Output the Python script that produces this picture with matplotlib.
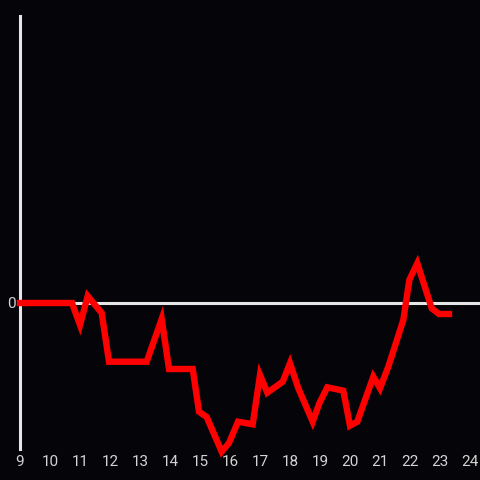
import matplotlib
matplotlib.use("Agg")
import matplotlib.pyplot as plt

hours = [9.0, 10.733, 11.0, 11.257, 11.723, 11.967, 13.223, 13.723, 13.967, 14.757,
         14.967, 15.223, 15.723, 15.967, 16.267, 16.757, 17.0, 17.243, 17.757, 18.0,
         18.277, 18.757, 18.977, 19.243, 19.777, 20.0, 20.243, 20.777, 21.0, 21.277,
         21.777, 21.977, 22.243, 22.723, 22.967, 23.3]
values = [0, 0, -2.2, 0.7, -1.0, -5.87, -5.87, -1.6, -6.6, -6.6,
          -10.87, -11.4, -14.87, -14.0, -11.87, -12.13, -7.2, -8.97, -7.87, -6.03,
          -8.53, -11.87, -10.03, -8.43, -8.77, -12.27, -11.87, -7.37, -8.53, -6.37,
          -1.7, 2.3, 3.97, -0.53, -1.1, -1.1]
xticks = list(range(9, 25))
yticks = [0]

bg = "#050408"
fg = "#d4d4d4"

plt.rcParams['font.family'] = ['Roboto', 'DejaVu Sans']
fig = plt.figure(figsize=(4.8, 4.8), dpi=100, facecolor=bg)
ax = fig.add_axes([20/480, 1 - 449/480, 460/480, (449 - 16)/480])
ax.set_facecolor(bg)

ax.axhline(0, color="#e6e6e6", lw=2.2, zorder=1)
ax.plot(hours, values, color="#ff0000", lw=4.6, solid_joinstyle="miter", zorder=3, clip_on=False)

ax.set_xlim(9, 9 + 460/30)
ax.set_ylim(-14.6, 28.7)
ax.set_xticks(xticks)
ax.set_xticklabels([str(t) for t in xticks])
ax.set_yticks(yticks)
ax.set_yticklabels([str(t) for t in yticks])
ax.tick_params(axis="both", length=0, colors=fg, labelsize=11)
ax.tick_params(axis="x", pad=4)
ax.tick_params(axis="y", pad=3)

for s in ["top", "right", "bottom"]:
    ax.spines[s].set_visible(False)
ax.spines["left"].set_color("#e6e6e6")
ax.spines["left"].set_linewidth(2.2)

fig.savefig("out.png", dpi=100, facecolor=bg)
